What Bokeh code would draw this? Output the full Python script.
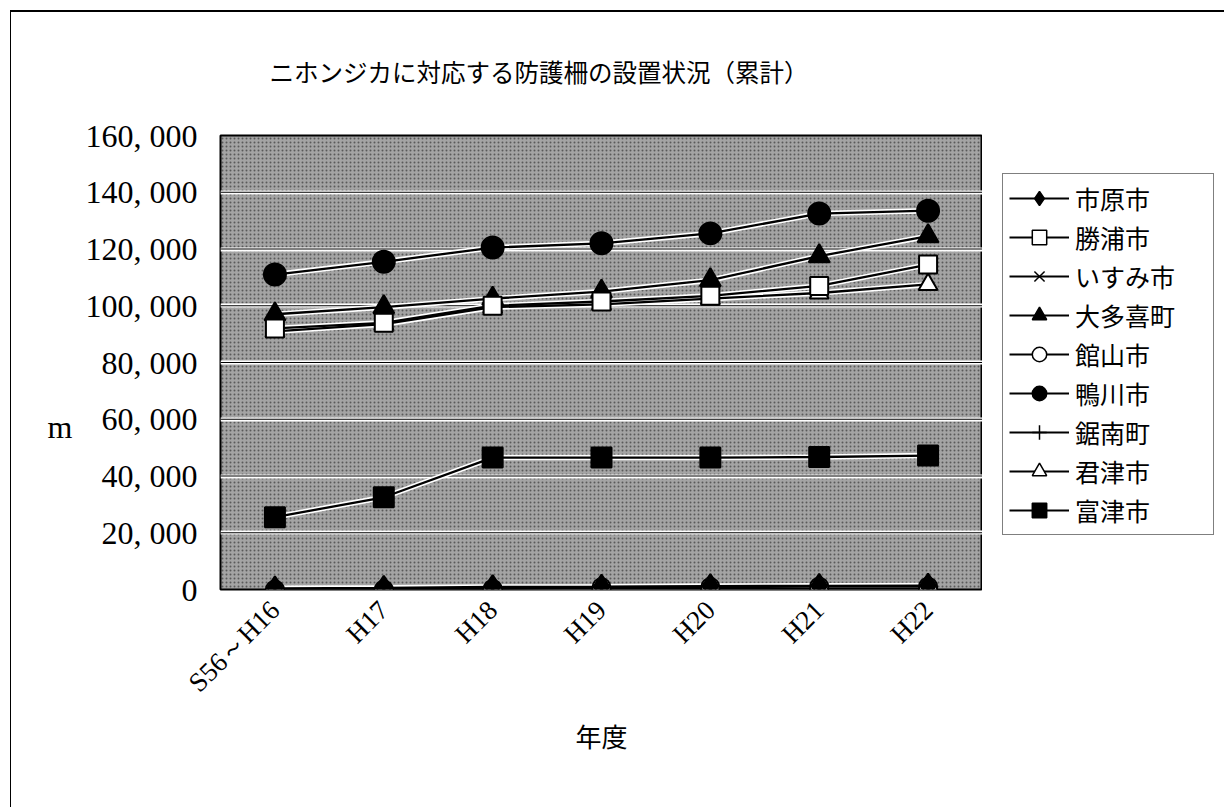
import math
from bokeh.plotting import figure
from bokeh.layouts import row
from bokeh.models import (FactorRange, Range1d, Legend, LegendItem,
                          BoxAnnotation, Span, FixedTicker)
from bokeh.embed import file_html
from bokeh.resources import INLINE

# ---------------- data ----------------
categories = ["S56～H16", "H17", "H18", "H19", "H20", "H21", "H22"]

ichihara = [400, 600, 900, 1000, 1200, 1300, 1400]          # 市原市
katsuura = [92000, 94000, 100000, 101500, 103500, 107000, 114500]  # 勝浦市
isumi = [0, 0, 100, 100, 100, 100, 100]                      # いすみ市
otaki = [97000, 99500, 102500, 105000, 109000, 117500, 124500]     # 大多喜町
tateyama = [0, 0, 200, 800, 900, 1000, 1000]                 # 館山市
kamogawa = [111000, 115500, 120500, 122000, 125500, 132500, 133500]  # 鴨川市
kyonan = [0, 0, 0, 0, 200, 200, 200]                         # 鋸南町
kimitsu = [91000, 93500, 99500, 100500, 102500, 104500, 107500]    # 君津市
futtsu = [25500, 32500, 46500, 46500, 46500, 46700, 47200]   # 富津市

series_names = ["市原市", "勝浦市", "いすみ市", "大多喜町", "館山市",
                "鴨川市", "鋸南町", "君津市", "富津市"]
series_values = [ichihara, katsuura, isumi, otaki, tateyama,
                 kamogawa, kyonan, kimitsu, futtsu]

y_ticks = [0, 20000, 40000, 60000, 80000, 100000, 120000, 140000, 160000]
y_tick_labels = ["0", "20, 000", "40, 000", "60, 000", "80, 000",
                 "100, 000", "120, 000", "140, 000", "160, 000"]

title_text = "ニホンジカに対応する防護柵の設置状況（累計）"
x_title = "年度"
y_title = "m"

# marker styles: (marker, filled, size, legend size)
styles = [
    ("diamond", True, 24, 18),
    ("square", False, 18, 13),
    ("x", False, 17, 14),
    ("triangle", True, 21, 15),
    ("circle", False, 18, 13),
    ("circle", True, 22, 16),
    ("cross", False, 20, 18),
    ("triangle", False, 19, 14),
    ("square", True, 20, 14),
]

JP = "Noto Sans CJK JP"
SERIF = "Liberation Serif"

p = figure(width=982, height=807,
           x_range=FactorRange(*categories, range_padding=0),
           y_range=Range1d(0, 160000),
           output_backend="svg", toolbar_location=None,
           min_border_left=220, min_border_right=0,
           min_border_top=135, min_border_bottom=218)
p.border_fill_alpha = 0

p.title.text = title_text
p.title.align = "left"
p.title.offset = 49
p.title.standoff = 93
p.title.text_font = JP
p.title.text_font_size = "24.5px"
p.title.text_font_style = "normal"
p.title.text_color = "black"

p.background_fill_color = "#a4a4a4"
p.outline_line_color = "black"
p.outline_line_width = 2

# texture of the plot area
tex = BoxAnnotation(fill_color=None, line_color=None, hatch_pattern=".",
                    hatch_color="black", hatch_alpha=0.45, hatch_scale=4,
                    level="image")
p.add_layout(tex)

p.xgrid.grid_line_color = None
p.ygrid.grid_line_color = "white"
p.ygrid.grid_line_width = 4
for t in y_ticks[1:-1]:
    p.add_layout(Span(location=t, dimension="width", line_color="black",
                      line_width=1, level="underlay"))

# axes
p.yaxis.ticker = FixedTicker(ticks=y_ticks)
p.yaxis.major_label_overrides = dict(zip(y_ticks, y_tick_labels))
p.yaxis.axis_line_color = None
p.yaxis.major_tick_line_color = None
p.yaxis.minor_tick_line_color = None
p.yaxis.major_label_standoff = 17
p.yaxis.major_label_text_font = SERIF
p.yaxis.major_label_text_font_size = "32px"
p.yaxis.major_label_text_color = "black"
p.yaxis.axis_label = "\n\n\n" + y_title
p.yaxis.axis_label_orientation = "horizontal"
p.yaxis.axis_label_text_font = SERIF
p.yaxis.axis_label_text_font_size = "32px"
p.yaxis.axis_label_text_font_style = "normal"
p.yaxis.axis_label_text_color = "black"
p.yaxis.axis_label_standoff = 10

p.xaxis.axis_line_color = None
p.xaxis.major_tick_line_color = None
p.xaxis.minor_tick_line_color = None
p.xaxis.major_label_orientation = math.pi / 4
p.xaxis.major_label_standoff = 10
p.xaxis.major_label_text_font = SERIF
p.xaxis.major_label_text_font_size = "27px"
p.xaxis.major_label_text_color = "black"
p.xaxis.axis_label = x_title
p.xaxis.axis_label_text_font = JP
p.xaxis.axis_label_text_font_size = "26px"
p.xaxis.axis_label_text_font_style = "normal"
p.xaxis.axis_label_text_color = "black"
p.xaxis.axis_label_standoff = 6

# series lines
for vals in series_values:
    p.line(categories, vals, line_color="white", line_width=5.5)
for vals in series_values:
    p.line(categories, vals, line_color="black", line_width=2.3)

# markers (drawn in reverse order so the first series sits on top)
order = list(range(len(series_names)))[::-1]
for i in order:
    vals = series_values[i]
    mk, filled, sz, lsz = styles[i]
    fill = "black" if filled else "white"
    p.scatter(categories, vals, marker=mk, size=sz, fill_color=fill,
              line_color="black", line_width=2)

# ---------------- legend panel (separate figure on the right) ----------
q = figure(width=242, height=807, x_range=Range1d(0, 1), y_range=Range1d(0, 1),
           output_backend="svg", toolbar_location=None,
           x_axis_location=None, y_axis_location=None,
           min_border=0)
q.border_fill_alpha = 0
q.background_fill_alpha = 0
q.outline_line_color = None
q.grid.grid_line_color = None

far = [-10, -9]
items = []
for name, (mk, filled, sz, lsz) in zip(series_names, styles):
    fill = "black" if filled else "white"
    lr = q.line(far, far, line_color="black", line_width=2)
    sr = q.scatter(far, far, marker=mk, size=lsz,
                   fill_color=fill, line_color="black", line_width=1.5)
    items.append(LegendItem(label=name, renderers=[lr, sr]))

legend = Legend(items=items, location=(20, 54),
                label_text_font=JP, label_text_font_size="25px",
                label_text_color="black",
                glyph_width=60, glyph_height=36, spacing=3, padding=6,
                label_standoff=6, label_width=132, margin=0,
                border_line_color="black", border_line_width=1.5,
                background_fill_color="white", background_fill_alpha=1)
q.add_layout(legend)

layout = row(p, q, spacing=0)
# outer chart frame (page-level border lines)
layout.styles = {
    "background": "linear-gradient(#000, #000) 10px 10px / 1214px 2px no-repeat, "
                  "linear-gradient(#000, #000) 10px 10px / 1px 797px no-repeat, "
                  "#ffffff"
}

open("out.html", "w").write(file_html(layout, INLINE))
